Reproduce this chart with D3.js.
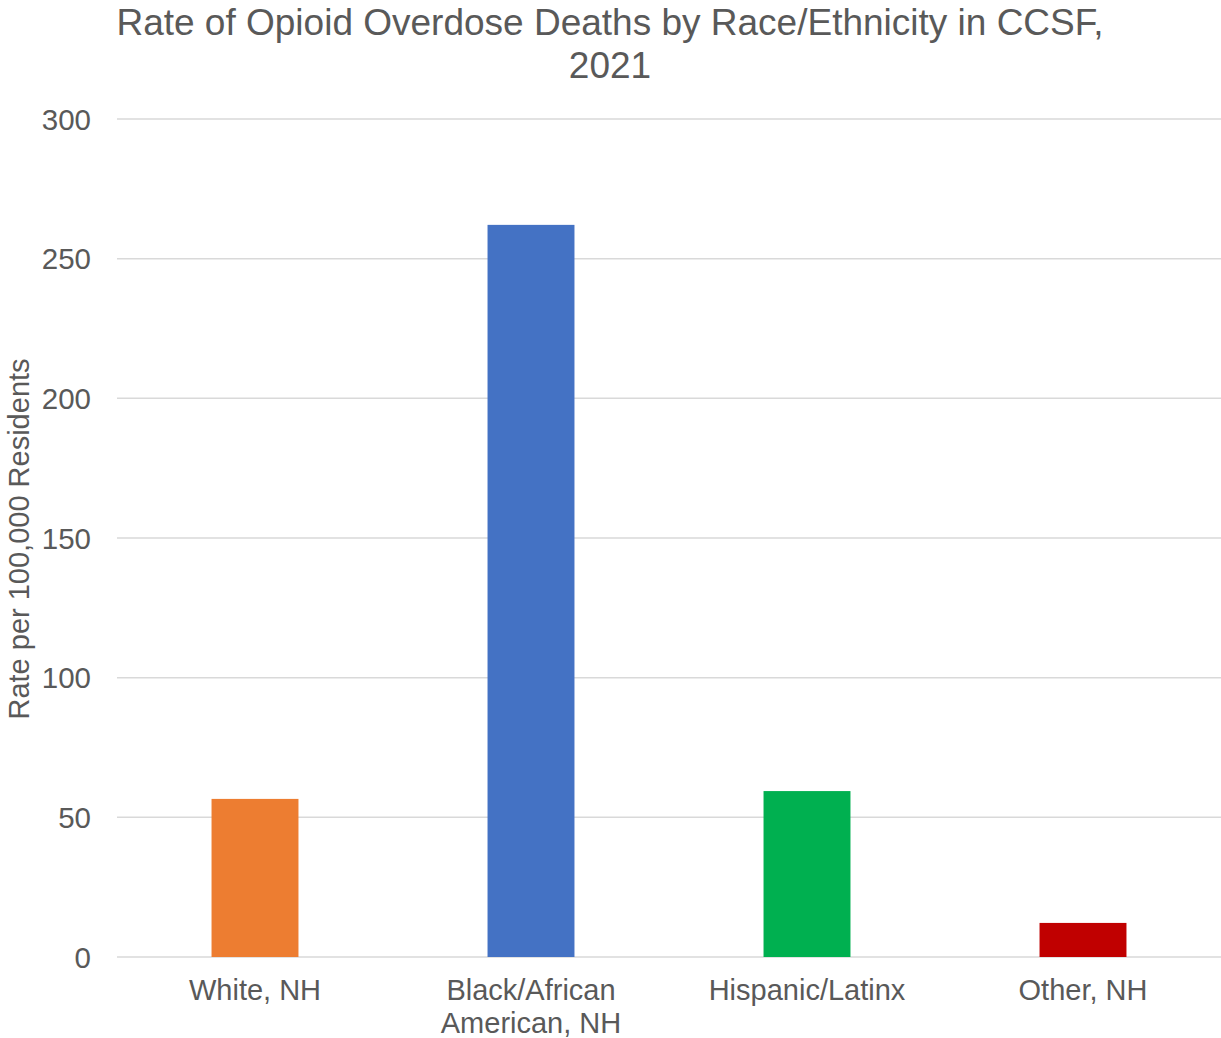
<!DOCTYPE html>
<html>
<head>
<meta charset="utf-8">
<script src="https://cdn.jsdelivr.net/npm/d3@7"></script>
<style>
  body { margin: 0; background: #fff; }
  text { font-family: "Liberation Sans", Arial, sans-serif; fill: #595959; }
</style>
</head>
<body>
<div id="chart"></div>
<script>
const categories = [["White, NH"], ["Black/African", "American, NH"], ["Hispanic/Latinx"], ["Other, NH"]];
const rates = [56.6, 262.1, 59.4, 12.2];
const barColors = ["#ED7D31", "#4472C4", "#00B050", "#C00000"];
const yTicks = [0, 50, 100, 150, 200, 250, 300];
const titleLines = ["Rate of Opioid Overdose Deaths by Race/Ethnicity in CCSF,", "2021"];
const yLabel = "Rate per 100,000 Residents";

const width = 1221;
const height = 1038;
const margin = { top: 119, right: 0, bottom: 81, left: 117 };

const data = categories.map((c, i) => ({ label: c, key: c.join(" "), value: rates[i], color: barColors[i] }));

const svg = d3.select("#chart")
  .append("svg")
  .attr("width", width)
  .attr("height", height);

const x = d3.scaleBand()
  .domain(data.map(d => d.key))
  .range([margin.left, width - margin.right])
  .paddingInner(0.685)
  .paddingOuter(0.3425);

const y = d3.scaleLinear()
  .domain([0, 300])
  .range([height - margin.bottom, margin.top]);

// gridlines
svg.append("g")
  .selectAll("line")
  .data(yTicks)
  .enter()
  .append("line")
  .attr("x1", margin.left)
  .attr("x2", width - margin.right)
  .attr("y1", d => y(d))
  .attr("y2", d => y(d))
  .attr("stroke", "#d9d9d9")
  .attr("stroke-width", 1.5);

// tick labels
svg.append("g")
  .selectAll("text")
  .data(yTicks)
  .enter()
  .append("text")
  .attr("x", margin.left - 26)
  .attr("y", d => y(d))
  .attr("dy", "0.36em")
  .attr("text-anchor", "end")
  .style("font-size", "29.5px")
  .text(d => d);

// bars
svg.append("g")
  .selectAll("rect")
  .data(data)
  .enter()
  .append("rect")
  .attr("x", d => x(d.key))
  .attr("width", x.bandwidth())
  .attr("y", d => y(d.value))
  .attr("height", d => y(0) - y(d.value))
  .attr("fill", d => d.color);

// category labels
const cat = svg.append("g")
  .selectAll("text")
  .data(data)
  .enter()
  .append("text")
  .attr("text-anchor", "middle")
  .attr("transform", d => `translate(${x(d.key) + x.bandwidth() / 2},${y(0) + 43})`)
  .style("font-size", "29px");

cat.selectAll("tspan")
  .data(d => d.label)
  .enter()
  .append("tspan")
  .attr("x", 0)
  .attr("dy", (d, i) => i === 0 ? 0 : 33)
  .text(d => d);

// y axis title
svg.append("text")
  .attr("transform", `translate(29,${(y(0) + y(300)) / 2 + 1}) rotate(-90)`)
  .attr("text-anchor", "middle")
  .style("font-size", "29px")
  .text(yLabel);

// chart title
svg.append("text")
  .attr("x", 610)
  .attr("y", 35)
  .attr("text-anchor", "middle")
  .style("font-size", "37px")
  .selectAll("tspan")
  .data(titleLines)
  .enter()
  .append("tspan")
  .attr("x", 610)
  .attr("dy", (d, i) => i === 0 ? 0 : 43)
  .text(d => d);
</script>
</body>
</html>
